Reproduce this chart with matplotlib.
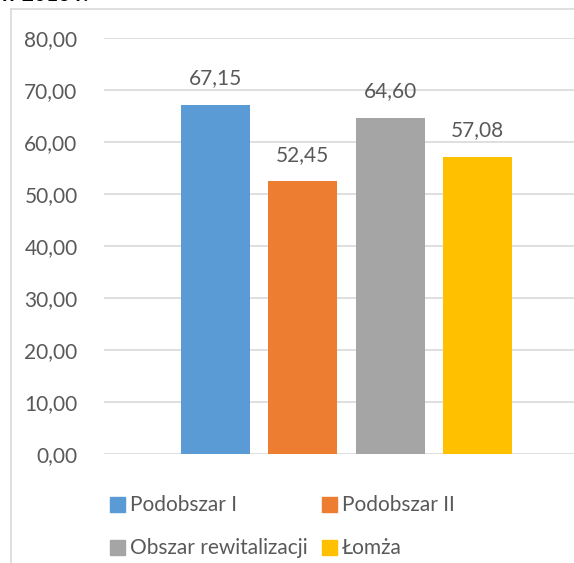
import matplotlib.pyplot as plt
from matplotlib.patches import Rectangle

plt.rcParams['font.family'] = ['Lato', 'DejaVu Sans']

SERIES = ['Podobszar I', 'Podobszar II', 'Obszar rewitalizacji', 'Łomża']
VALUES = [67.15, 52.45, 64.60, 57.08]
COLORS = ['#5b9bd5', '#ed7d31', '#a5a5a5', '#ffc000']
YTICKS = [0, 10, 20, 30, 40, 50, 60, 70, 80]

W, H = 574, 563
fig = plt.figure(figsize=(W / 100, H / 100), dpi=100)

# plot area in pixels: left 104, right 574, top y=38 (80), bottom y=454 (0)
ax = fig.add_axes([104 / W, 1 - 454 / H, (574 - 104) / W, (454 - 38) / H])
ax.set_ylim(0, 80)
ax.set_xlim(-1.277, 4.106)

xs = range(len(VALUES))
ax.bar(xs, VALUES, width=0.79, color=COLORS, zorder=3)
for x, v in zip(xs, VALUES):
    ax.text(x, v + 3.2, f'{v:.2f}'.replace('.', ','), ha='center', va='bottom',
            fontsize=15, color='#595959')

ax.set_yticks(YTICKS)
ax.set_yticklabels([f'{t:.2f}'.replace('.', ',') for t in YTICKS], fontsize=15, color='#595959')
ax.tick_params(axis='y', length=0, pad=19)
ax.set_xticks([])
ax.grid(axis='y', color='#d9d9d9', lw=1.2, zorder=0)
for s in ax.spines.values():
    s.set_visible(False)

# legend, drawn by hand in two rows
legend_pos = [(110, 505), (322, 505), (110, 548), (322, 548)]
for (px, py), name, c in zip(legend_pos, SERIES, COLORS):
    fig.patches.append(Rectangle((px / W, 1 - (py + 7) / H), 15 / W, 15 / H,
                                 transform=fig.transFigure, color=c))
    fig.text((px + 20) / W, 1 - py / H, name, fontsize=15, color='#595959', va='center')

# chart border and cut-off title (the reference is cropped through it)
fig.add_artist(plt.Line2D([11 / W, 1], [1 - 9 / H, 1 - 9 / H], color='#d9d9d9', lw=1.2))
fig.add_artist(plt.Line2D([11 / W, 11 / W], [0, 1 - 9 / H], color='#d9d9d9', lw=1.2))
fig.text(0 / W, 1 - 5 / H, 'w 2016 r.', fontsize=15, fontweight='bold', color='#000000',
         va='bottom')

fig.savefig('out.png', dpi=100)
